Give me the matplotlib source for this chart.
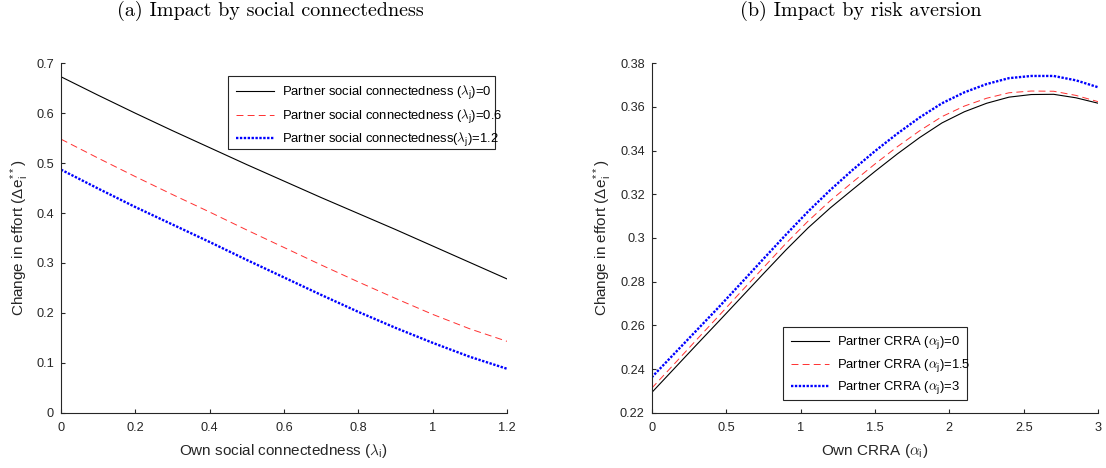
import matplotlib
matplotlib.use("Agg")
import matplotlib.pyplot as plt
from matplotlib.patches import Rectangle
from matplotlib.ticker import FuncFormatter

plt.rcParams["font.family"] = ["Liberation Sans", "DejaVu Sans"]
plt.rcParams["mathtext.fontset"] = "cm"
plt.rcParams["lines.scale_dashes"] = False

# Panel (a): effort change against own social connectedness
own_lambda = [0.0, 0.1, 0.2, 0.3, 0.4, 0.5, 0.6, 0.7, 0.8, 0.9, 1.0, 1.1, 1.2]
effort_lambda_0 = [0.673, 0.636, 0.600, 0.565, 0.531, 0.497, 0.464, 0.431, 0.399, 0.367, 0.334, 0.301, 0.268]
effort_lambda_06 = [0.548, 0.510, 0.473, 0.437, 0.402, 0.366, 0.331, 0.296, 0.262, 0.229, 0.197, 0.168, 0.143]
effort_lambda_12 = [0.487, 0.449, 0.412, 0.377, 0.342, 0.306, 0.271, 0.236, 0.202, 0.170, 0.140, 0.112, 0.088]

# Panel (b): effort change against own risk aversion (CRRA)
own_alpha = [0.0, 0.15, 0.30, 0.45, 0.60, 0.75, 0.90, 1.05, 1.20, 1.35, 1.50,
             1.65, 1.80, 1.95, 2.10, 2.25, 2.40, 2.55, 2.70, 2.85, 3.00]
effort_alpha_0 = [0.2292, 0.2401, 0.2510, 0.2618, 0.2727, 0.2836, 0.2944, 0.3046, 0.3138, 0.3222, 0.3305,
                  0.3385, 0.3460, 0.3527, 0.3578, 0.3617, 0.3645, 0.3657, 0.3658, 0.3642, 0.3617]
effort_alpha_15 = [0.2312, 0.2422, 0.2533, 0.2643, 0.2754, 0.2864, 0.2974, 0.3077, 0.3171, 0.3256, 0.3339,
                   0.3418, 0.3491, 0.3556, 0.3604, 0.3640, 0.3665, 0.3673, 0.3672, 0.3653, 0.3624]
effort_alpha_3 = [0.2362, 0.2469, 0.2576, 0.2683, 0.2793, 0.2904, 0.3014, 0.3121, 0.3220, 0.3312, 0.3398,
                  0.3478, 0.3552, 0.3617, 0.3667, 0.3705, 0.3732, 0.3742, 0.3742, 0.3722, 0.3690]

legend_a = [r"Partner social connectedness ($\lambda_{\mathregular{j}}$)=0",
            r"Partner social connectedness ($\lambda_{\mathregular{j}}$)=0.6",
            r"Partner social connectedness($\lambda_{\mathregular{j}}$)=1.2"]
legend_b = [r"Partner CRRA ($\alpha_{\mathregular{j}}$)=0",
            r"Partner CRRA ($\alpha_{\mathregular{j}}$)=1.5",
            r"Partner CRRA ($\alpha_{\mathregular{j}}$)=3"]

W, H = 1106, 468
fig = plt.figure(figsize=(W / 100, H / 100), dpi=100)

AX_COL = "#262626"
TICK_FS = 9.2
LEG_FS = 9.4
LABEL_FS = 11.0

styles = [
    dict(color="black", lw=0.8, linestyle="-"),
    dict(color="#ff3030", lw=0.7, linestyle=(0, (5.0, 3.0))),
    dict(color="#0000ff", lw=1.7, linestyle=(0, (1.7, 1.1))),
]


def px_axes(left, right, top, bottom):
    return fig.add_axes([left / W, 1 - bottom / H, (right - left) / W, (bottom - top) / H])


def style_axes(ax):
    for side in ("top", "right"):
        ax.spines[side].set_visible(False)
    for side in ("left", "bottom"):
        ax.spines[side].set_color(AX_COL)
        ax.spines[side].set_linewidth(0.8)
    ax.tick_params(direction="in", length=3.2, width=0.8, color=AX_COL,
                   labelcolor=AX_COL, labelsize=TICK_FS)
    ax.tick_params(axis="x", pad=6.5)
    ax.tick_params(axis="y", pad=5)
    fmt = FuncFormatter(lambda v, _: f"{v:g}")
    ax.xaxis.set_major_formatter(fmt)
    ax.yaxis.set_major_formatter(fmt)


def boxed_legend(ax, labels, left, top, right, bottom):
    """Legend entries placed inside a frame drawn at the given pixel box."""
    leg = ax.legend(labels=labels, handles=ax.get_lines(), loc="upper left",
                    bbox_to_anchor=(left / W, 1 - top / H),
                    bbox_transform=fig.transFigure, fontsize=LEG_FS, frameon=False,
                    borderpad=0.62, handlelength=2.9, handletextpad=0.65,
                    labelspacing=0.4, borderaxespad=0)
    for t in leg.get_texts():
        t.set_color("black")
    ax.add_patch(Rectangle((left / W, 1 - bottom / H), (right - left) / W,
                           (bottom - top) / H, transform=fig.transFigure, clip_on=False,
                           facecolor="white", edgecolor=AX_COL, lw=0.8, zorder=4))
    leg.set_zorder(5)
    return leg


ylabel = r"Change in effort (Δ$\mathregular{e}_{\mathregular{i}}^{\mathregular{**}}$)"

# ---- panel (a)
ax1 = px_axes(61, 507, 63.3, 412.7)
for y, st in zip([effort_lambda_0, effort_lambda_06, effort_lambda_12], styles):
    ax1.plot(own_lambda, y, **st)
ax1.set_xlim(0, 1.2)
ax1.set_ylim(0, 0.7)
ax1.set_xticks([0, 0.2, 0.4, 0.6, 0.8, 1.0, 1.2])
ax1.set_yticks([0, 0.1, 0.2, 0.3, 0.4, 0.5, 0.6, 0.7])
style_axes(ax1)
ax1.set_xlabel(r"Own social connectedness ($\lambda_{\mathregular{i}}$)", fontsize=LABEL_FS,
               color=AX_COL, labelpad=6)
ax1.set_ylabel(ylabel, fontsize=LABEL_FS, color=AX_COL, labelpad=4)

# ---- panel (b)
ax2 = px_axes(651.7, 1098.3, 63.3, 412.7)
for y, st in zip([effort_alpha_0, effort_alpha_15, effort_alpha_3], styles):
    ax2.plot(own_alpha, y, **st)
ax2.set_xlim(0, 3)
ax2.set_ylim(0.22, 0.38)
ax2.set_xticks([0, 0.5, 1, 1.5, 2, 2.5, 3])
ax2.set_yticks([0.22, 0.24, 0.26, 0.28, 0.30, 0.32, 0.34, 0.36, 0.38])
style_axes(ax2)
ax2.set_xlabel(r"Own CRRA ($\alpha_{\mathregular{i}}$)", fontsize=LABEL_FS, color=AX_COL, labelpad=6)
ax2.set_ylabel(ylabel, fontsize=LABEL_FS, color=AX_COL, labelpad=4)

boxed_legend(ax1, legend_a, 228, 76, 495, 149)
boxed_legend(ax2, legend_b, 783, 327, 967, 400)

# ---- subfigure captions
fig.text(270 / W, 1 - 16 / H, "(a) Impact by social connectedness", ha="center", va="baseline",
         fontsize=14.5, family="cmr10")
fig.text(861 / W, 1 - 16 / H, "(b) Impact by risk aversion", ha="center", va="baseline",
         fontsize=14.5, family="cmr10")

fig.savefig("out.png", dpi=100)
